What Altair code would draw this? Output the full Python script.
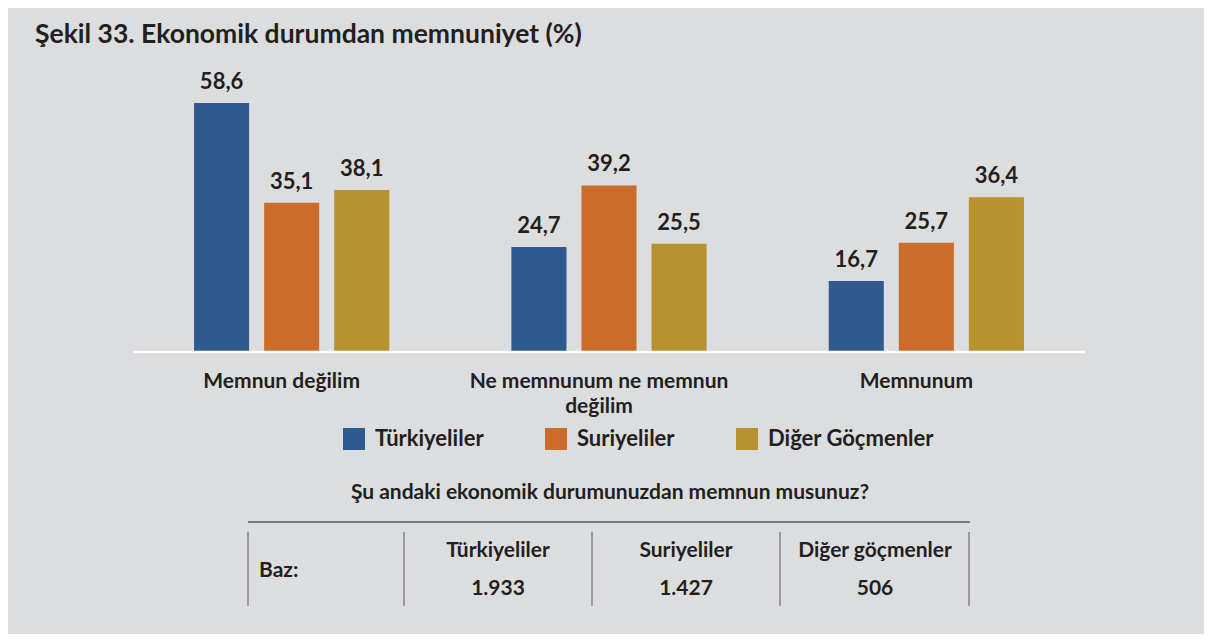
import altair as alt
import pandas as pd

# ---- data ----
categories = ["Memnun değilim", "Ne memnunum ne memnun değilim", "Memnunum"]
groups = ["Türkiyeliler", "Suriyeliler", "Diğer Göçmenler"]
turkiyeliler = [58.6, 24.7, 16.7]
suriyeliler = [35.1, 39.2, 25.7]
diger = [38.1, 25.5, 36.4]
colors = ["#2e5a8f", "#cc6c2b", "#b8922f"]

title_text = "Şekil 33. Ekonomik durumdan memnuniyet (%)"
question_text = "Şu andaki ekonomik durumunuzdan memnun musunuz?"
table_label = "Baz:"
table_headers = ["Türkiyeliler", "Suriyeliler", "Diğer göçmenler"]
table_values = ["1.933", "1.427", "506"]

rows = []
for g, vals in zip(groups, [turkiyeliler, suriyeliler, diger]):
    for c, v in zip(categories, vals):
        rows.append({"category": c, "group": g, "value": v,
                     "label": f"{v:.1f}".replace(".", ",")})
df = pd.DataFrame(rows)

FONT = "Lato"
INK = "#231f20"
BG = "#dcdddf"

# layout (pixels relative to plot origin)
W, H = 952, 255
col_x = [365, 553, 742]
vlines = [115, 271, 459, 647, 836]

x_enc = alt.X("category:N", sort=categories,
              scale=alt.Scale(paddingInner=0, paddingOuter=0),
              axis=alt.Axis(title=None, domain=False, ticks=False, labelAngle=0,
                            labelFont=FONT, labelFontSize=21, labelFontWeight="bold",
                            labelColor=INK, labelPadding=18, labelLimit=400,
                            labelLineHeight=25, labelOffset=-10,
                            labelExpr="datum.label == 'Ne memnunum ne memnun değilim' ? ['Ne memnunum ne memnun', 'değilim'] : datum.label"))
xo_enc = alt.XOffset("group:N", sort=groups,
                     scale=alt.Scale(paddingInner=0.214, paddingOuter=0.871))
y_enc = alt.Y("value:Q", scale=alt.Scale(domain=[0, 60]), axis=None)

base = alt.Chart(df)

bars = base.mark_bar().encode(
    x=x_enc, xOffset=xo_enc, y=y_enc,
    color=alt.Color("group:N", sort=groups,
                    scale=alt.Scale(domain=groups, range=colors),
                    legend=alt.Legend(orient="none", legendX=210, legendY=331,
                                      direction="horizontal", title=None,
                                      symbolType="square", symbolSize=484,
                                      symbolStrokeWidth=0, symbolOpacity=1,
                                      labelFont=FONT, labelFontSize=22,
                                      labelFontWeight="bold", labelColor=INK,
                                      labelOffset=10, columnPadding=61,
                                      labelLimit=400)),
)

values = base.mark_text(font=FONT, fontSize=22, fontWeight="bold", color=INK,
                        baseline="alphabetic", dy=-14).encode(
    x=x_enc, xOffset=xo_enc, y=y_enc, text="label:N")

baseline = alt.Chart(pd.DataFrame({"v": [0]})).mark_rule(
    color="white", strokeWidth=2.5).encode(y=alt.Y("v:Q", scale=alt.Scale(domain=[0, 60]), axis=None))

title = alt.Chart(pd.DataFrame({"t": [title_text]})).mark_text(
    font=FONT, fontSize=26.5, fontWeight="bold", color=INK, align="left",
    baseline="alphabetic").encode(x=alt.value(-98), y=alt.value(-54), text="t:N")

question = alt.Chart(pd.DataFrame({"t": [question_text]})).mark_text(
    font=FONT, fontSize=21, fontWeight="bold", color=INK, align="center",
    baseline="middle").encode(x=alt.value(477), y=alt.value(396), text="t:N")

table_rule = alt.Chart(pd.DataFrame({"a": [0]})).mark_rule(
    color="#58595b", strokeWidth=1.5).encode(
    x=alt.value(115), x2=alt.value(837), y=alt.value(425))

vrules = [alt.Chart(pd.DataFrame({"a": [0]})).mark_rule(
    color="#58595b", strokeWidth=1).encode(
    x=alt.value(vx), y=alt.value(435), y2=alt.value(509)) for vx in vlines]

baz = alt.Chart(pd.DataFrame({"t": [table_label]})).mark_text(
    font=FONT, fontSize=21, fontWeight="bold", color=INK, align="left",
    baseline="middle").encode(x=alt.value(126), y=alt.value(474), text="t:N")

cells = []
for cx, h, v in zip(col_x, table_headers, table_values):
    cells.append(alt.Chart(pd.DataFrame({"t": [h]})).mark_text(
        font=FONT, fontSize=21, fontWeight="bold", color=INK, align="center",
        baseline="middle").encode(x=alt.value(cx), y=alt.value(454), text="t:N"))
    cells.append(alt.Chart(pd.DataFrame({"t": [v]})).mark_text(
        font=FONT, fontSize=21, fontWeight="bold", color=INK, align="center",
        baseline="middle").encode(x=alt.value(cx), y=alt.value(492), text="t:N"))

chart = alt.layer(bars, values, baseline, title, question, table_rule, *vrules, baz, *cells).properties(
    width=W, height=H,
    padding={"left": 125, "top": 89, "right": 119, "bottom": 282},
    autosize=alt.AutoSizeParams(type="none"),
    background=BG,
).configure_view(stroke=None)

chart.save("out.html", embed_options={"renderer": "svg", "actions": False})
